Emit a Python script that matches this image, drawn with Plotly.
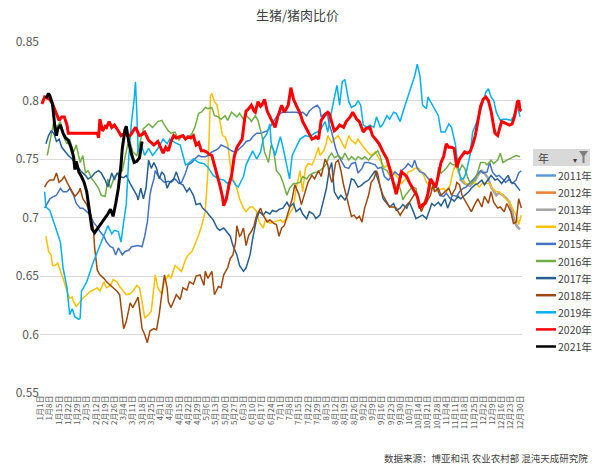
import datetime as dt
import plotly.graph_objects as go

# ---- x axis: day-of-year categories (leap-year calendar, Jan 1 .. Dec 31) ----
base = dt.date(2020, 1, 1)
day_labels = [f"{(base + dt.timedelta(days=i)).month}月{(base + dt.timedelta(days=i)).day}日" for i in range(366)]
tick_days = list(range(0, 365, 7))
tick_text = [day_labels[i] for i in tick_days]

years = ["2011年", "2012年", "2013年", "2014年", "2015年", "2016年",
         "2017年", "2018年", "2019年", "2020年", "2021年"]
colors = ["#5B9BD5", "#ED7D31", "#A5A5A5", "#FFC000", "#4472C4", "#70AD47",
          "#255E91", "#9E480E", "#00B0F0", "#FF0000", "#000000"]
widths = [1.5, 1.5, 2.5, 1.5, 1.5, 1.5, 1.5, 1.5, 1.5, 3, 3]

# ---- hog / pork price ratio, by day index ----
d2011 = []
v2011 = []

d2012 = []
v2012 = []

d2013 = [318, 322, 326, 330, 333, 335, 337, 340, 342, 344, 346, 348, 351, 354, 356, 358, 360, 362, 364]
v2013 = [0.733, 0.729, 0.727, 0.732, 0.738, 0.740, 0.738, 0.733, 0.726, 0.722, 0.719, 0.721, 0.719, 0.716,
         0.713, 0.705, 0.696, 0.692, 0.690]

d2014 = [4, 6, 8, 9, 11, 13, 15, 17, 20, 22, 24, 25, 27, 30, 32, 35, 38, 40, 43, 45, 48, 50, 53, 55, 58, 60,
         63, 65, 68, 70, 73, 75, 77, 79, 82, 84, 87, 89, 92, 94, 97, 99, 102, 104, 107, 110, 112, 115, 117,
         120, 122, 125, 127, 128, 129, 130, 132, 134, 136, 138, 140, 142, 144, 146, 149, 151, 154, 156, 159,
         161, 164, 166, 169, 171, 174, 177, 179, 182, 184, 187, 189, 192, 194, 197, 199, 201, 203, 206, 208,
         211, 212, 215, 217, 218, 221, 223, 226, 229, 231, 234, 236, 239, 241, 244, 246, 249, 251, 254, 256,
         259, 261, 264, 267, 269, 272, 274, 277, 279, 282, 284, 287, 289, 291, 293, 296, 298, 301, 303, 306,
         308, 311, 313, 315, 318, 320, 323, 325, 328, 331, 333, 336, 338, 341, 343, 346, 348, 351, 353, 356,
         358, 361, 363, 365]
v2014 = [0.684, 0.671, 0.668, 0.659, 0.659, 0.661, 0.654, 0.648, 0.637, 0.631, 0.632, 0.628, 0.624, 0.628,
         0.631, 0.634, 0.637, 0.638, 0.640, 0.637, 0.645, 0.640, 0.642, 0.647, 0.645, 0.641, 0.637, 0.634,
         0.635, 0.637, 0.642, 0.640, 0.628, 0.614, 0.617, 0.620, 0.651, 0.640, 0.634, 0.645, 0.651, 0.648,
         0.659, 0.657, 0.654, 0.664, 0.668, 0.671, 0.676, 0.685, 0.692, 0.705, 0.739, 0.767, 0.804, 0.806,
         0.799, 0.796, 0.782, 0.770, 0.769, 0.763, 0.745, 0.733, 0.725, 0.716, 0.708, 0.705, 0.709, 0.709,
         0.705, 0.696, 0.691, 0.699, 0.695, 0.696, 0.697, 0.698, 0.696, 0.699, 0.703, 0.709, 0.725, 0.740,
         0.722, 0.742, 0.746, 0.745, 0.750, 0.760, 0.753, 0.757, 0.764, 0.770, 0.764, 0.767, 0.770, 0.764,
         0.759, 0.770, 0.766, 0.763, 0.767, 0.762, 0.759, 0.755, 0.753, 0.756, 0.752, 0.747, 0.743, 0.745,
         0.739, 0.737, 0.733, 0.729, 0.733, 0.739, 0.740, 0.742, 0.742, 0.739, 0.736, 0.730, 0.726, 0.725,
         0.722, 0.724, 0.725, 0.722, 0.728, 0.739, 0.745, 0.736, 0.733, 0.729, 0.728, 0.730, 0.729, 0.726,
         0.730, 0.729, 0.729, 0.725, 0.722, 0.722, 0.719, 0.716, 0.713, 0.709, 0.702, 0.694, 0.702]

d2015 = [3, 5, 7, 10, 12, 15, 17, 20, 22, 25, 27, 30, 32, 35, 38, 40, 43, 45, 48, 50, 53, 55, 57, 59, 62, 64,
         67, 69, 72, 74, 77, 79, 81, 82, 83, 84, 86, 87, 89, 92, 94, 97, 99, 102, 105, 107, 110, 112, 115,
         117, 120, 122, 125, 127, 130, 132, 135, 137, 141, 145, 147, 149, 151, 154, 156, 159, 161, 164, 167,
         169, 172, 174, 177, 179, 182, 184, 187, 189, 192, 194, 197, 199, 202, 204, 207, 210, 212, 213, 216,
         218, 219, 221, 224, 226, 229, 231, 234, 236, 239, 241, 244, 246, 249, 251, 254, 256, 259, 261, 264,
         267, 269, 272, 274, 277, 279, 282, 284, 286, 288, 291, 293, 296, 298, 301, 303, 306, 308, 311, 313,
         316, 318, 321, 323, 326, 329, 331, 334, 336, 339, 341, 343, 346, 348, 351, 353, 356, 358, 361, 363,
         365]
v2015 = [0.708, 0.712, 0.716, 0.718, 0.719, 0.725, 0.722, 0.722, 0.725, 0.719, 0.712, 0.708, 0.708, 0.705,
         0.702, 0.696, 0.692, 0.688, 0.684, 0.679, 0.675, 0.674, 0.668, 0.674, 0.668, 0.671, 0.672, 0.675,
         0.676, 0.676, 0.675, 0.684, 0.696, 0.711, 0.719, 0.725, 0.733, 0.740, 0.736, 0.732, 0.730, 0.731,
         0.730, 0.733, 0.729, 0.730, 0.738, 0.745, 0.747, 0.750, 0.753, 0.752, 0.752, 0.753, 0.756, 0.757,
         0.759, 0.762, 0.760, 0.757, 0.756, 0.757, 0.759, 0.762, 0.765, 0.766, 0.769, 0.772, 0.772, 0.773,
         0.774, 0.777, 0.782, 0.786, 0.789, 0.790, 0.790, 0.790, 0.790, 0.790, 0.789, 0.790, 0.787, 0.791,
         0.794, 0.796, 0.793, 0.786, 0.789, 0.787, 0.780, 0.773, 0.759, 0.753, 0.747, 0.743, 0.742, 0.746,
         0.747, 0.738, 0.742, 0.747, 0.747, 0.746, 0.745, 0.742, 0.743, 0.735, 0.732, 0.736, 0.739, 0.736,
         0.740, 0.743, 0.746, 0.743, 0.749, 0.742, 0.739, 0.738, 0.735, 0.730, 0.728, 0.725, 0.719, 0.718,
         0.721, 0.716, 0.719, 0.718, 0.722, 0.725, 0.726, 0.730, 0.733, 0.736, 0.740, 0.738, 0.739, 0.747,
         0.739, 0.735, 0.736, 0.733, 0.730, 0.733, 0.729, 0.732, 0.738, 0.740]

d2016 = [5, 7, 10, 12, 15, 17, 20, 22, 25, 27, 30, 32, 34, 36, 39, 41, 44, 46, 49, 51, 53, 56, 59, 62, 64, 66,
         68, 70, 73, 75, 78, 82, 85, 89, 92, 94, 97, 99, 102, 105, 107, 110, 112, 115, 117, 120, 122, 125, 127,
         130, 132, 135, 137, 140, 142, 145, 147, 149, 151, 154, 156, 159, 160, 163, 165, 168, 170, 173, 175,
         177, 179, 182, 184, 187, 189, 192, 194, 197, 199, 202, 204, 207, 210, 212, 215, 217, 219, 221, 223,
         226, 229, 231, 234, 236, 239, 241, 244, 246, 249, 251, 254, 256, 258, 260, 263, 265, 268, 270, 273,
         275, 277, 280, 282, 285, 287, 289, 291, 293, 296, 298, 301, 302, 304, 306, 308, 311, 313, 316, 318,
         320, 322, 325, 327, 330, 332, 334, 337, 339, 342, 344, 347, 349, 351, 354, 356, 359, 361, 364]
v2016 = [0.753, 0.765, 0.782, 0.777, 0.782, 0.770, 0.763, 0.767, 0.756, 0.762, 0.747, 0.753, 0.738, 0.740,
         0.733, 0.730, 0.725, 0.719, 0.718, 0.733, 0.725, 0.735, 0.738, 0.740, 0.752, 0.762, 0.764, 0.756,
         0.753, 0.762, 0.776, 0.780, 0.777, 0.782, 0.783, 0.779, 0.774, 0.772, 0.773, 0.766, 0.770, 0.767,
         0.768, 0.772, 0.777, 0.789, 0.790, 0.794, 0.793, 0.794, 0.787, 0.786, 0.784, 0.787, 0.783, 0.790,
         0.788, 0.786, 0.789, 0.784, 0.787, 0.784, 0.782, 0.787, 0.783, 0.770, 0.756, 0.747, 0.762, 0.757,
         0.740, 0.736, 0.730, 0.719, 0.725, 0.729, 0.729, 0.730, 0.735, 0.733, 0.736, 0.738, 0.739, 0.740,
         0.743, 0.746, 0.752, 0.755, 0.751, 0.753, 0.750, 0.755, 0.749, 0.752, 0.749, 0.752, 0.750, 0.752,
         0.749, 0.752, 0.755, 0.757, 0.752, 0.742, 0.740, 0.736, 0.730, 0.726, 0.725, 0.715, 0.719, 0.723,
         0.726, 0.725, 0.713, 0.708, 0.713, 0.719, 0.725, 0.725, 0.729, 0.743, 0.738, 0.740, 0.742, 0.747,
         0.745, 0.745, 0.740, 0.745, 0.742, 0.732, 0.729, 0.733, 0.739, 0.747, 0.747, 0.745, 0.749, 0.746,
         0.749, 0.755, 0.747, 0.749, 0.750, 0.752, 0.753, 0.752]

d2017 = [4, 6, 8, 10, 12, 14, 16, 19, 21, 24, 26, 29, 31, 34, 36, 39, 41, 44, 46, 49, 51, 54, 56, 58, 60, 63,
         65, 68, 70, 73, 74, 76, 78, 80, 82, 84, 86, 88, 90, 92, 94, 96, 98, 101, 103, 106, 108, 111, 113, 116,
         118, 121, 123, 126, 128, 131, 134, 136, 139, 141, 144, 146, 149, 151, 154, 156, 159, 161, 164, 166,
         169, 171, 174, 176, 179, 181, 184, 187, 189, 192, 194, 197, 199, 202, 204, 207, 209, 212, 214, 217,
         219, 221, 223, 226, 228, 231, 233, 236, 238, 241, 243, 246, 249, 251, 254, 255, 258, 260, 263, 265,
         268, 270, 273, 275, 278, 280, 283, 285, 288, 290, 293, 295, 297, 299, 302, 304, 307, 309, 312, 314,
         317, 319, 322, 325, 327, 330, 332, 335, 337, 340, 342, 345, 347, 350, 352, 355, 357, 360, 362, 364]
v2017 = [0.763, 0.770, 0.774, 0.772, 0.765, 0.767, 0.760, 0.756, 0.753, 0.750, 0.747, 0.743, 0.739, 0.736,
         0.733, 0.735, 0.738, 0.740, 0.738, 0.732, 0.726, 0.738, 0.732, 0.738, 0.735, 0.734, 0.736, 0.729,
         0.725, 0.719, 0.715, 0.725, 0.716, 0.725, 0.749, 0.742, 0.747, 0.742, 0.733, 0.739, 0.736, 0.725,
         0.730, 0.733, 0.739, 0.729, 0.728, 0.722, 0.725, 0.719, 0.711, 0.712, 0.708, 0.705, 0.702, 0.698,
         0.691, 0.689, 0.691, 0.688, 0.684, 0.676, 0.668, 0.659, 0.654, 0.657, 0.668, 0.682, 0.699, 0.705,
         0.702, 0.705, 0.703, 0.706, 0.705, 0.707, 0.708, 0.713, 0.709, 0.712, 0.705, 0.708, 0.703, 0.699,
         0.705, 0.703, 0.699, 0.702, 0.711, 0.725, 0.740, 0.747, 0.722, 0.716, 0.719, 0.715, 0.719, 0.733,
         0.732, 0.726, 0.727, 0.730, 0.732, 0.735, 0.740, 0.736, 0.726, 0.716, 0.712, 0.709, 0.712, 0.706,
         0.708, 0.711, 0.708, 0.713, 0.705, 0.699, 0.701, 0.702, 0.699, 0.705, 0.712, 0.710, 0.713, 0.710,
         0.716, 0.708, 0.716, 0.714, 0.718, 0.716, 0.719, 0.722, 0.725, 0.728, 0.729, 0.732, 0.728, 0.733,
         0.736, 0.732, 0.733, 0.729, 0.732, 0.736, 0.730, 0.729, 0.726, 0.723]

d2018 = [3, 5, 7, 10, 12, 14, 16, 18, 20, 22, 24, 26, 29, 30, 32, 35, 38, 40, 41, 43, 45, 48, 50, 53, 55, 58,
         60, 62, 63, 65, 67, 68, 70, 72, 74, 75, 77, 79, 81, 83, 86, 88, 90, 92, 94, 96, 97, 99, 102, 103, 106,
         108, 111, 113, 116, 118, 121, 124, 125, 127, 130, 132, 135, 137, 139, 142, 144, 146, 148, 149, 151,
         152, 154, 156, 158, 160, 162, 164, 167, 169, 172, 174, 177, 179, 181, 183, 185, 188, 191, 193, 196,
         198, 201, 203, 206, 208, 211, 213, 216, 218, 219, 221, 222, 224, 226, 228, 230, 232, 234, 236, 238,
         240, 242, 244, 246, 249, 251, 253, 255, 256, 258, 260, 263, 265, 268, 270, 273, 275, 278, 280, 283,
         285, 287, 289, 291, 293, 296, 298, 299, 302, 304, 307, 310, 312, 315, 316, 318, 320, 323, 325, 327,
         330, 332, 335, 337, 340, 342, 344, 347, 349, 352, 354, 357, 359, 361, 363, 365]
v2018 = [0.726, 0.730, 0.732, 0.732, 0.738, 0.730, 0.732, 0.735, 0.730, 0.726, 0.722, 0.718, 0.722, 0.725,
         0.716, 0.711, 0.702, 0.691, 0.674, 0.655, 0.651, 0.648, 0.645, 0.642, 0.640, 0.637, 0.634, 0.614,
         0.605, 0.611, 0.620, 0.627, 0.623, 0.628, 0.632, 0.623, 0.605, 0.600, 0.593, 0.603, 0.605, 0.604,
         0.617, 0.635, 0.651, 0.640, 0.628, 0.623, 0.631, 0.634, 0.630, 0.640, 0.638, 0.645, 0.643, 0.650,
         0.651, 0.642, 0.654, 0.648, 0.654, 0.634, 0.641, 0.640, 0.651, 0.657, 0.665, 0.668, 0.679, 0.693,
         0.684, 0.685, 0.691, 0.676, 0.685, 0.688, 0.693, 0.702, 0.708, 0.702, 0.696, 0.698, 0.695, 0.694,
         0.684, 0.691, 0.693, 0.705, 0.716, 0.728, 0.720, 0.711, 0.722, 0.730, 0.736, 0.733, 0.740, 0.735,
         0.750, 0.745, 0.739, 0.730, 0.733, 0.747, 0.749, 0.740, 0.728, 0.719, 0.708, 0.701, 0.702, 0.699,
         0.701, 0.696, 0.708, 0.719, 0.730, 0.733, 0.740, 0.737, 0.725, 0.719, 0.713, 0.709, 0.709, 0.708,
         0.702, 0.706, 0.711, 0.713, 0.719, 0.722, 0.713, 0.705, 0.710, 0.713, 0.719, 0.728, 0.722, 0.725,
         0.719, 0.722, 0.725, 0.719, 0.725, 0.730, 0.728, 0.719, 0.713, 0.709, 0.705, 0.712, 0.716, 0.709,
         0.718, 0.712, 0.722, 0.713, 0.708, 0.709, 0.705, 0.712, 0.705, 0.695, 0.696, 0.716, 0.708]

d2019 = [3, 4, 7, 10, 12, 15, 17, 20, 22, 24, 26, 29, 30, 31, 35, 40, 45, 49, 51, 54, 56, 59, 61, 63, 65, 67,
         69, 71, 72, 73, 74, 77, 79, 82, 85, 89, 93, 96, 98, 102, 106, 110, 112, 116, 120, 124, 127, 131, 135,
         139, 142, 145, 148, 150, 154, 156, 159, 161, 164, 167, 169, 172, 174, 175, 178, 182, 184, 187, 189,
         191, 194, 197, 201, 204, 208, 212, 216, 218, 222, 225, 227, 229, 231, 234, 236, 239, 241, 243, 245,
         248, 250, 253, 255, 258, 260, 263, 265, 268, 270, 273, 275, 279, 282, 284, 286, 288, 290, 293, 294,
         297, 299, 302, 304, 307, 310, 312, 315, 317, 319, 321, 323, 326, 328, 330, 333, 336, 338, 340, 342,
         344, 346, 349, 351, 354, 357, 359, 362, 364]
v2019 = [0.722, 0.709, 0.706, 0.696, 0.688, 0.679, 0.657, 0.640, 0.617, 0.622, 0.615, 0.613, 0.614, 0.637,
         0.645, 0.662, 0.676, 0.688, 0.693, 0.686, 0.689, 0.688, 0.679, 0.696, 0.711, 0.753, 0.782, 0.801,
         0.816, 0.790, 0.756, 0.760, 0.753, 0.759, 0.753, 0.759, 0.767, 0.763, 0.767, 0.764, 0.762, 0.745,
         0.746, 0.750, 0.747, 0.746, 0.743, 0.736, 0.733, 0.732, 0.729, 0.733, 0.728, 0.726, 0.735, 0.745,
         0.753, 0.757, 0.750, 0.756, 0.767, 0.772, 0.780, 0.764, 0.753, 0.769, 0.760, 0.745, 0.733, 0.753,
         0.760, 0.767, 0.770, 0.769, 0.772, 0.774, 0.782, 0.773, 0.797, 0.813, 0.796, 0.816, 0.818, 0.799,
         0.794, 0.796, 0.800, 0.796, 0.779, 0.777, 0.779, 0.777, 0.786, 0.777, 0.780, 0.787, 0.784, 0.790,
         0.789, 0.782, 0.790, 0.803, 0.814, 0.821, 0.831, 0.821, 0.796, 0.793, 0.803, 0.797, 0.793, 0.787,
         0.773, 0.773, 0.780, 0.777, 0.762, 0.743, 0.733, 0.733, 0.738, 0.753, 0.773, 0.779, 0.787, 0.799,
         0.807, 0.810, 0.803, 0.800, 0.790, 0.783, 0.784, 0.784, 0.783, 0.786, 0.796, 0.786]

d2020 = [1, 3, 5, 7, 9, 11, 12, 14, 16, 18, 20, 21, 25, 30, 35, 40, 43, 44, 45, 47, 49, 50, 52, 54, 56, 59,
         61, 64, 66, 68, 70, 72, 75, 77, 79, 82, 84, 86, 89, 91, 93, 95, 97, 99, 101, 103, 105, 108, 110, 112,
         114, 116, 118, 120, 122, 124, 126, 128, 130, 132, 134, 136, 138, 139, 141, 143, 145, 147, 149, 151,
         153, 155, 156, 158, 160, 162, 163, 165, 167, 168, 170, 172, 174, 176, 178, 180, 182, 183, 185, 187,
         188, 190, 192, 194, 197, 199, 201, 203, 206, 208, 209, 211, 213, 216, 218, 219, 221, 223, 225, 227,
         230, 232, 235, 237, 240, 242, 245, 247, 250, 252, 255, 257, 260, 263, 265, 267, 269, 270, 272, 274,
         276, 278, 280, 282, 284, 286, 288, 290, 292, 294, 296, 298, 300, 302, 304, 306, 308, 310, 312, 314,
         316, 318, 320, 322, 324, 326, 328, 330, 332, 334, 336, 338, 340, 342, 344, 345, 347, 349, 350, 352,
         354, 356, 358, 360, 362, 363, 364, 365]
v2020 = [0.797, 0.803, 0.802, 0.801, 0.797, 0.791, 0.789, 0.783, 0.786, 0.786, 0.779, 0.772, 0.772, 0.772,
         0.772, 0.772, 0.772, 0.768, 0.784, 0.774, 0.778, 0.777, 0.782, 0.777, 0.779, 0.774, 0.770, 0.772,
         0.770, 0.770, 0.774, 0.777, 0.770, 0.771, 0.773, 0.766, 0.764, 0.762, 0.765, 0.760, 0.755, 0.760,
         0.757, 0.765, 0.770, 0.768, 0.769, 0.770, 0.767, 0.769, 0.768, 0.770, 0.762, 0.764, 0.757, 0.757,
         0.756, 0.754, 0.753, 0.745, 0.737, 0.728, 0.718, 0.710, 0.716, 0.728, 0.736, 0.752, 0.760, 0.764,
         0.767, 0.785, 0.791, 0.793, 0.796, 0.791, 0.790, 0.799, 0.795, 0.796, 0.801, 0.791, 0.786, 0.782,
         0.777, 0.786, 0.793, 0.796, 0.790, 0.794, 0.796, 0.811, 0.801, 0.796, 0.789, 0.782, 0.778, 0.774,
         0.767, 0.768, 0.769, 0.767, 0.783, 0.788, 0.790, 0.789, 0.781, 0.774, 0.776, 0.779, 0.777, 0.782,
         0.786, 0.790, 0.784, 0.782, 0.773, 0.776, 0.777, 0.770, 0.766, 0.763, 0.756, 0.750, 0.742, 0.733,
         0.722, 0.720, 0.729, 0.739, 0.737, 0.735, 0.730, 0.726, 0.722, 0.718, 0.708, 0.711, 0.712, 0.720,
         0.733, 0.730, 0.726, 0.736, 0.747, 0.752, 0.763, 0.760, 0.760, 0.759, 0.743, 0.750, 0.753, 0.756,
         0.755, 0.756, 0.762, 0.770, 0.782, 0.795, 0.801, 0.803, 0.800, 0.791, 0.778, 0.772, 0.770, 0.778,
         0.782, 0.781, 0.780, 0.779, 0.780, 0.787, 0.799, 0.800, 0.792, 0.791]

d2021 = [4, 6, 7, 9, 11, 12, 13, 15, 17, 19, 21, 23, 25, 26, 27, 29, 31, 33, 35, 36, 38, 39, 41, 43, 45, 47,
         49, 51, 53, 55, 57, 59, 61, 62, 64, 65, 67, 69, 71, 73, 75, 76, 77]
v2021 = [0.802, 0.806, 0.804, 0.797, 0.775, 0.770, 0.776, 0.779, 0.772, 0.768, 0.766, 0.760, 0.752, 0.741,
         0.748, 0.739, 0.735, 0.730, 0.722, 0.714, 0.696, 0.690, 0.687, 0.690, 0.694, 0.696, 0.699, 0.703,
         0.707, 0.701, 0.712, 0.725, 0.745, 0.759, 0.775, 0.778, 0.764, 0.754, 0.747, 0.748, 0.751, 0.758,
         0.765]

series_days = [d2011, d2012, d2013, d2014, d2015, d2016, d2017, d2018, d2019, d2020, d2021]
series_vals = [v2011, v2012, v2013, v2014, v2015, v2016, v2017, v2018, v2019, v2020, v2021]

y_ticks = [0.55, 0.6, 0.65, 0.7, 0.75, 0.8, 0.85]
y_text = ["0.55", "0.6", "0.65", "0.7", "0.75", "0.8", "0.85"]

# ---- page geometry (pixels) ----
W, H = 595, 467
ML, MR, MT, MB = 40, 73, 42, 74
PW, PH = W - ML - MR, H - MT - MB


def px_x(px):
    return (px - ML) / PW


def px_y(py):
    return (H - MB - py) / PH


font_cn = "Noto Sans CJK SC, Noto Sans, sans-serif"

fig = go.Figure()
for name, col, w, xs, ys in zip(years, colors, widths, series_days, series_vals):
    fig.add_trace(go.Scatter(
        x=xs if xs else [None], y=ys if ys else [None], mode="lines", name=name,
        line=dict(color=col, width=w), hoverinfo="skip", showlegend=False))

fig.update_layout(
    width=W, height=H,
    margin=dict(l=ML, r=MR, t=MT, b=MB),
    paper_bgcolor="white", plot_bgcolor="white",
    font=dict(family=font_cn, color="#595959"),
    title=dict(text="生猪/猪肉比价", x=0.5, xanchor="center", y=1 - 15 / H, yanchor="middle",
               font=dict(size=13, color="#404040", family=font_cn)),
    showlegend=False,
    xaxis=dict(range=[-0.5, 365.5], tickmode="array", tickvals=tick_days, ticktext=tick_text,
               tickangle=-90, tickfont=dict(size=8, color="#595959"), showgrid=False,
               zeroline=False, showline=False, ticks=""),
    yaxis=dict(range=[0.55, 0.85], tickmode="array", tickvals=y_ticks, ticktext=y_text,
               tickfont=dict(size=12, color="#595959"), showgrid=True, gridcolor="#D9D9D9",
               gridwidth=1, zeroline=False, showline=False, ticks=""),
)

# ---- legend: pivot-field button + one line sample per year ----
fig.add_shape(type="rect", xref="paper", yref="paper", x0=px_x(533), x1=px_x(590),
              y0=px_y(166), y1=px_y(149), fillcolor="#D9D9D9", line=dict(width=0))
fig.add_annotation(text="年", xref="paper", yref="paper", x=px_x(536), y=px_y(157.5),
                   xanchor="left", yanchor="middle", showarrow=False,
                   font=dict(size=11, color="#404040", family=font_cn))
fig.add_annotation(text="▾", xref="paper", yref="paper", x=px_x(575), y=px_y(159),
                   xanchor="center", yanchor="middle", showarrow=False,
                   font=dict(size=8, color="#404040"))
fig.add_shape(type="path", xref="paper", yref="paper",
              path=(f"M {px_x(579)} {px_y(151)} L {px_x(588)} {px_y(151)} L {px_x(584.5)} {px_y(156)} "
                    f"L {px_x(584.5)} {px_y(163)} L {px_x(582.5)} {px_y(163)} L {px_x(582.5)} {px_y(156)} Z"),
              fillcolor="#7F7F7F", line=dict(width=0))

for i, (name, col) in enumerate(zip(years, colors)):
    yc = 175.5 + 17.1 * i
    fig.add_shape(type="line", xref="paper", yref="paper", x0=px_x(536), x1=px_x(556),
                  y0=px_y(yc), y1=px_y(yc), line=dict(color=col, width=2.5))
    fig.add_annotation(text=name, xref="paper", yref="paper", x=px_x(556), y=px_y(yc),
                       xanchor="left", yanchor="middle", showarrow=False,
                       font=dict(size=10.5, color="#404040", family=font_cn))

fig.add_annotation(text="数据来源：博亚和讯 农业农村部 混沌天成研究院", xref="paper", yref="paper",
                   x=px_x(590), y=px_y(458), xanchor="right", yanchor="middle", showarrow=False,
                   font=dict(size=9.5, color="#404040", family=font_cn))

fig.write_html("out.html")
